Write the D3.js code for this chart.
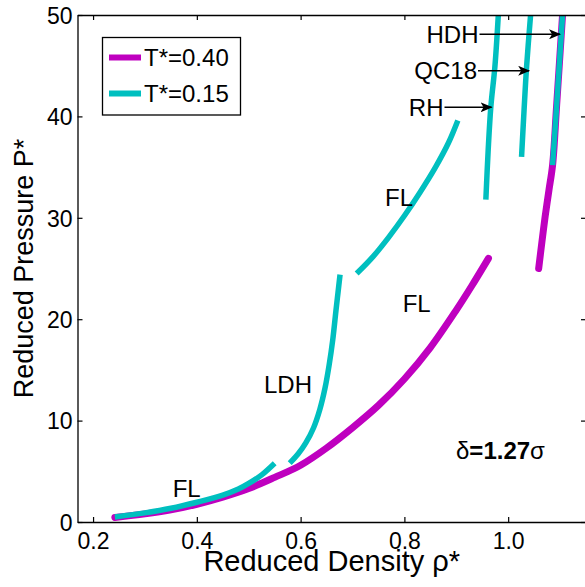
<!DOCTYPE html>
<html>
<head>
<meta charset="utf-8">
<script src="https://cdn.jsdelivr.net/npm/d3@7"></script>
<style>
  body { margin: 0; background: #fff; }
  svg { display: block; font-family: "Liberation Sans", Arial, sans-serif; }
</style>
</head>
<body>
<script>
// T*=0.40 (magenta) : [rho, P]
var hotFL = [[0.242,0.45],[0.30,0.8],[0.35,1.2],[0.40,1.75],[0.45,2.45],[0.50,3.3],[0.55,4.4],[0.60,5.6],
             [0.65,7.3],[0.70,9.3],[0.75,11.5],[0.80,14.1],[0.85,17.2],[0.90,20.9],[0.93,23.3],[0.962,26.0]];
var hotHDH = [[1.0588,25.0],[1.0650,27.6],[1.0712,30.1],[1.0785,32.7],[1.0856,35.2],[1.0933,41.0],[1.1048,50.0]];

// T*=0.15 (cyan) segments
var coldFL1 = [[0.242,0.5],[0.30,0.9],[0.35,1.35],[0.40,1.95],[0.45,2.65],[0.48,3.25],[0.50,3.8],[0.525,4.65],[0.55,5.8]];
var coldLDH = [[0.579,5.8],[0.595,6.7],[0.61,7.8],[0.625,9.3],[0.637,11.1],[0.647,13.2],[0.655,15.5],[0.662,18.0],
               [0.668,20.8],[0.672,22.6],[0.676,24.4]];
var coldFL2 = [[0.708,24.5],[0.74,26.2],[0.77,28.1],[0.80,30.2],[0.83,32.5],[0.86,35.0],[0.885,37.4],[0.903,39.6]];
var coldRH = [[0.957,31.8],[0.9615,36.7],[0.9667,41.0],[0.9744,44.9],[0.981,50.0]];
var coldQC18 = [[1.0258,36.0],[1.0305,40.5],[1.0355,44.9],[1.0432,50.0]];
var coldHDH = [[1.0856,35.2],[1.0933,41.0],[1.1048,50.0]];

var xTicks = [0.2, 0.4, 0.6, 0.8, 1.0];
var xTickLabels = ["0.2", "0.4", "0.6", "0.8", "1.0"];
var yTicks = [0, 10, 20, 30, 40, 50];

var legendItems = ["T*=0.40", "T*=0.15"];

// phase labels: [text, rho, P]
var phaseLabels = [["FL", 0.3535, 2.44], ["LDH", 0.5294, 12.75], ["FL", 0.7626, 31.16], ["FL", 0.7967, 20.74]];
// arrowed labels: [text, arrow-end rho, arrow-end P]
var arrowLabels = [["HDH", 1.100, 48.1], ["QC18", 1.0405, 44.5], ["RH", 0.968, 40.9]];

var magenta = "#bf00bf", cyan = "#00bfbf";

var W = 585, H = 587;
var mLeft = 77.5, mRight = 586, mTop = 15, mBottom = 522;

var svg = d3.select("body").append("svg")
  .attr("width", W).attr("height", H);

var x = d3.scaleLinear().domain([0.17, 1.15]).range([mLeft, mRight]);
var y = d3.scaleLinear().domain([0, 50]).range([mBottom, mTop]);

svg.append("clipPath").attr("id", "plotclip")
  .append("rect").attr("x", mLeft).attr("y", mTop)
  .attr("width", mRight - mLeft).attr("height", mBottom - mTop);

var line = d3.line()
  .x(function (d) { return x(d[0]); })
  .y(function (d) { return y(d[1]); })
  .curve(d3.curveCatmullRom.alpha(0.5));

var plot = svg.append("g").attr("clip-path", "url(#plotclip)");

// magenta first, cyan on top
[hotFL, hotHDH].forEach(function (seg) {
  plot.append("path").datum(seg)
    .attr("d", line)
    .attr("fill", "none")
    .attr("stroke", magenta)
    .attr("stroke-width", 7)
    .attr("stroke-linecap", "round")
    .attr("stroke-linejoin", "round");
});

[coldFL1, coldLDH, coldFL2, coldRH, coldQC18, coldHDH].forEach(function (seg) {
  plot.append("path").datum(seg)
    .attr("d", line)
    .attr("fill", "none")
    .attr("stroke", cyan)
    .attr("stroke-width", 5.5)
    .attr("stroke-linecap", "butt");
});

// axes: ticks inside, box all round
var axisG = svg.append("g");
var xb = axisG.append("g").attr("transform", "translate(0," + mBottom + ")")
  .call(d3.axisBottom(x).tickValues(xTicks).tickSizeInner(-5).tickSizeOuter(0)
        .tickFormat(function (d, i) { return xTickLabels[i]; }));
var xt = axisG.append("g").attr("transform", "translate(0," + mTop + ")")
  .call(d3.axisTop(x).tickValues(xTicks).tickSizeInner(-5).tickSizeOuter(0).tickFormat(""));
var yl = axisG.append("g").attr("transform", "translate(" + mLeft + ",0)")
  .call(d3.axisLeft(y).tickValues(yTicks).tickSizeInner(-5).tickSizeOuter(0));
var yr = axisG.append("g").attr("transform", "translate(" + mRight + ",0)")
  .call(d3.axisRight(y).tickValues(yTicks).tickSizeInner(-5).tickSizeOuter(0).tickFormat(""));

axisG.selectAll("path.domain").attr("stroke", "#000").attr("stroke-width", 1.3);
axisG.selectAll(".tick line").attr("stroke", "#000").attr("stroke-width", 1.2);
axisG.selectAll(".tick text")
  .attr("fill", "#000")
  .style("font-family", "'Liberation Sans', Arial, sans-serif")
  .style("font-size", "23px");
xb.selectAll(".tick text").attr("y", 10.5).attr("dy", "0.71em");
yl.selectAll(".tick text").attr("x", -5).attr("dy", "0.36em");

// axis titles
svg.append("text")
  .attr("x", (mLeft + mRight) / 2 + 0)
  .attr("y", 571)
  .attr("text-anchor", "middle")
  .style("font-size", "29px")
  .text("Reduced Density \u03c1*");

svg.append("text")
  .attr("transform", "translate(33," + ((mTop + mBottom) / 2) + ") rotate(-90)")
  .attr("text-anchor", "middle")
  .style("font-size", "27px")
  .text("Reduced Pressure P*");

// legend
var leg = svg.append("g");
leg.append("rect")
  .attr("x", 102.5).attr("y", 37.5).attr("width", 138).attr("height", 77.5)
  .attr("fill", "#fff").attr("stroke", "#000").attr("stroke-width", 1.3);
leg.selectAll("line.key").data(legendItems).enter().append("line")
  .attr("x1", 109).attr("x2", 141)
  .attr("y1", function (d, i) { return 57.5 + i * 36; })
  .attr("y2", function (d, i) { return 57.5 + i * 36; })
  .attr("stroke", function (d, i) { return i === 0 ? magenta : cyan; })
  .attr("stroke-width", 6);
leg.selectAll("text.key").data(legendItems).enter().append("text")
  .attr("x", 144)
  .attr("y", function (d, i) { return 57.5 + i * 36; })
  .attr("dy", "0.36em")
  .style("font-size", "24px")
  .text(function (d) { return d; });

// phase labels
svg.selectAll("text.phase").data(phaseLabels).enter().append("text")
  .attr("x", function (d) { return x(d[1]); })
  .attr("y", function (d) { return y(d[2]); })
  .style("font-size", "24px")
  .text(function (d) { return d[0]; });

// arrows
var defs = svg.append("defs");
defs.append("marker")
  .attr("id", "head")
  .attr("viewBox", "0 0 12 10")
  .attr("refX", 11).attr("refY", 5)
  .attr("markerWidth", 12).attr("markerHeight", 10)
  .attr("markerUnits", "userSpaceOnUse")
  .attr("orient", "auto")
  .append("path").attr("d", "M0,0 L12,5 L0,10 L3,5 Z").attr("fill", "#000");

var arrowText = [478.5, 477, 443.5];
svg.selectAll("line.arrow").data(arrowLabels).enter().append("line")
  .attr("x1", function (d, i) { return arrowText[i] + 1; })
  .attr("x2", function (d) { return x(d[1]); })
  .attr("y1", function (d) { return y(d[2]); })
  .attr("y2", function (d) { return y(d[2]); })
  .attr("stroke", "#000").attr("stroke-width", 1.6)
  .attr("marker-end", "url(#head)");
svg.selectAll("text.arrow").data(arrowLabels).enter().append("text")
  .attr("x", function (d, i) { return arrowText[i]; })
  .attr("y", function (d) { return y(d[2]); })
  .attr("dy", "0.36em")
  .attr("text-anchor", "end")
  .style("font-size", "24px")
  .text(function (d) { return d[0]; });

// delta annotation
var dl = svg.append("text").attr("x", 456).attr("y", 459).style("font-size", "24px");
dl.append("tspan").text("\u03b4");
dl.append("tspan").style("font-weight", "bold").text("=1.27");
dl.append("tspan").text("\u03c3");
</script>
</body>
</html>
